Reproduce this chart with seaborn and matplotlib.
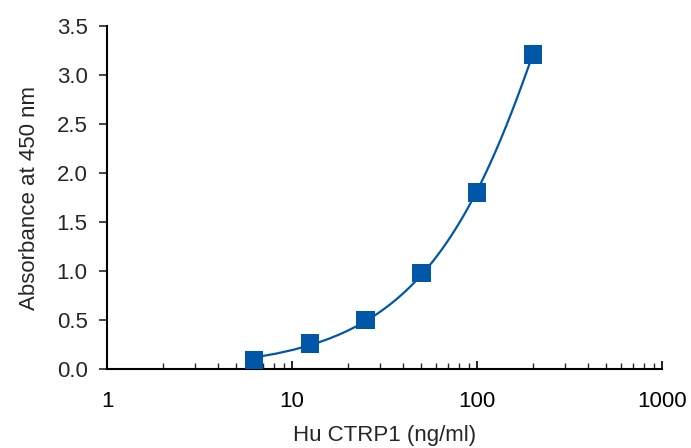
import numpy as np
import pandas as pd
import seaborn as sns
import matplotlib.pyplot as plt
from matplotlib.ticker import LogLocator, FixedLocator, FixedFormatter, NullFormatter

# dados
conc = [6.25, 12.5, 25, 50, 100, 200]
absorb = [0.09, 0.26, 0.50, 0.98, 1.80, 3.21]
xticks = [1, 10, 100, 1000]
xlabels = ["1", "10", "100", "1000"]
yticks = [0.0, 0.5, 1.0, 1.5, 2.0, 2.5, 3.0, 3.5]

df = pd.DataFrame({"conc": conc, "absorb": absorb})

sns.set_style("ticks")
plt.rcParams['font.family'] = ['Liberation Sans Narrow', 'Liberation Sans', 'DejaVu Sans']
cor = "#0057a8"

fig = plt.figure(figsize=(6.91, 4.48), dpi=100)
ax = fig.add_axes([0.155, 0.176, 0.803, 0.766])
ax.set_xscale("log")

# curva ajustada
sns.regplot(data=df, x="conc", y="absorb", order=2, ci=None, scatter=False,
            line_kws={"color": cor, "lw": 1.6}, ax=ax)
sns.scatterplot(data=df, x="conc", y="absorb", marker="s", s=175, color=cor,
                edgecolor="none", ax=ax, zorder=3)

ax.set_xlim(1, 1000)
ax.set_ylim(0, 3.5)
ax.xaxis.set_major_locator(FixedLocator(xticks))
ax.xaxis.set_major_formatter(FixedFormatter(xlabels))
ax.xaxis.set_minor_locator(LogLocator(base=10, subs=np.arange(2, 10)))
ax.xaxis.set_minor_formatter(NullFormatter())
ax.set_yticks(yticks)
ax.set_yticklabels([f"{v:.1f}" for v in yticks])

ax.tick_params(axis="x", which="major", direction="in", length=6, width=1.2, labelsize=16, pad=16, colors="black")
ax.tick_params(axis="x", which="minor", direction="in", length=4, width=1.0)
ax.tick_params(axis="y", direction="out", length=6, width=1.2, labelsize=16, pad=8)
for s in ["top", "right"]:
    ax.spines[s].set_visible(False)
for s in ["left", "bottom"]:
    ax.spines[s].set_linewidth(1.5)
    ax.spines[s].set_color("black")

ax.set_xlabel("Hu CTRP1 (ng/ml)", fontsize=16, labelpad=9)
ax.set_ylabel("Absorbance at 450 nm", fontsize=16, labelpad=12)

plt.savefig("out.png", dpi=100)
